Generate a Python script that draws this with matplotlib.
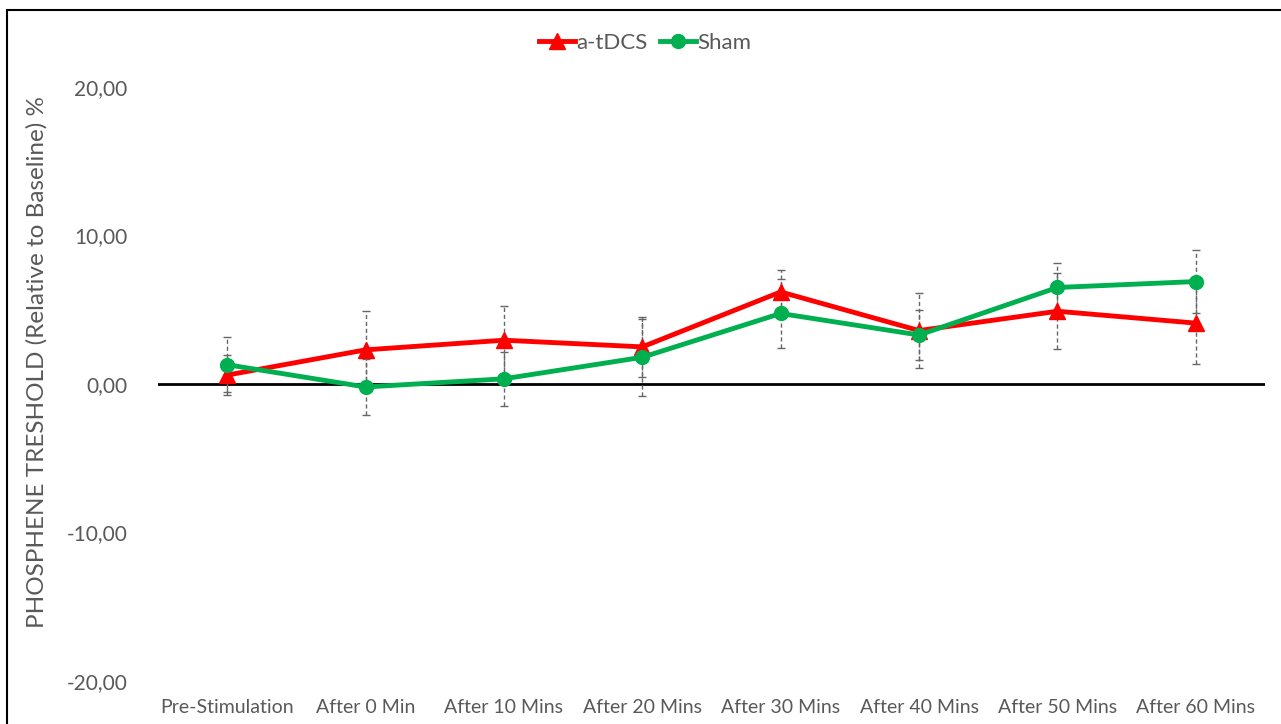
import matplotlib.pyplot as plt
import numpy as np
from matplotlib.patches import Rectangle

# data
categories = ['Pre-Stimulation', 'After 0 Min', 'After 10 Mins', 'After 20 Mins',
              'After 30 Mins', 'After 40 Mins', 'After 50 Mins', 'After 60 Mins']
tdcs = [0.6, 2.3, 2.95, 2.5, 6.2, 3.6, 4.9, 4.1]
tdcs_err = [1.35, 2.6, 2.3, 2.0, 1.5, 2.5, 2.55, 2.75]
sham = [1.3, -0.2, 0.35, 1.8, 4.75, 3.3, 6.5, 6.9]
sham_err = [1.85, 1.9, 1.8, 2.6, 2.35, 1.7, 1.65, 2.1]
yticks = [-20, -10, 0, 10, 20]

plt.rcParams['font.family'] = ['Lato', 'DejaVu Sans']
txt = '#595959'

fig = plt.figure(figsize=(12.81, 7.24), dpi=100)
ax = fig.add_axes([0.1233, 0.0594, 0.8642, 0.8204])

x = np.arange(len(categories))

# error bars (dashed grey)
for vals, errs in [(tdcs, tdcs_err), (sham, sham_err)]:
    eb = ax.errorbar(x, vals, yerr=errs, fmt='none', ecolor='#666666',
                     elinewidth=1, capsize=3, capthick=1, zorder=2)
    for lc in eb[2]:
        lc.set_linestyle((0, (3, 2)))

ax.axhline(0, color='black', lw=2, zorder=1)

ax.plot(x, tdcs, color='#FF0000', lw=3.5, marker='^', markersize=11,
        label='a-tDCS', zorder=3)
ax.plot(x, sham, color='#00B050', lw=3.5, marker='o', markersize=10,
        label='Sham', zorder=4)

ax.set_xlim(-0.5, len(categories) - 0.5)
ax.set_ylim(-20, 20)
ax.set_yticks(yticks)
ax.set_yticklabels(['{:.2f}'.format(v).replace('.', ',') for v in yticks],
                   fontsize=15, color=txt)
ax.set_xticks(x)
ax.set_xticklabels(categories, fontsize=14, color=txt)
ax.tick_params(axis='both', length=0)
ax.tick_params(axis='y', pad=22)
ax.tick_params(axis='x', pad=13)
for s in ax.spines.values():
    s.set_visible(False)

ax.set_ylabel('PHOSPHENE TRESHOLD (Relative to Baseline) %', fontsize=17.5,
              color=txt)
ax.yaxis.set_label_coords(-0.1, 0.537)

ax.legend(loc='upper center', bbox_to_anchor=(0.44, 1.125), ncol=2, frameon=False,
          fontsize=16, handlelength=1.6, handletextpad=0.05, columnspacing=0.6,
          labelcolor=txt)

# chart border
fig.add_artist(Rectangle((7 / 1281, -0.1), 1.2, 1 - 10 / 724 + 0.1,
                         transform=fig.transFigure, fill=False,
                         edgecolor='black', lw=1.5))

fig.savefig('out.png', dpi=100)
